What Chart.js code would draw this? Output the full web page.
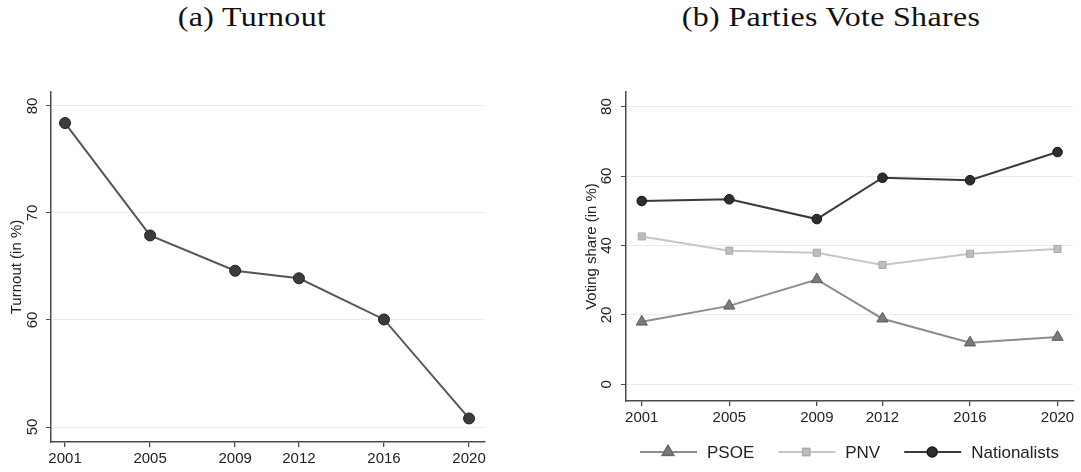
<!DOCTYPE html>
<html>
<head>
<meta charset="utf-8">
<script src="https://cdn.jsdelivr.net/npm/chart.js@4.4.1/dist/chart.umd.min.js"></script>
<style>
  html, body { margin: 0; padding: 0; background: #fff; width: 1081px; height: 472px; overflow: hidden; }
  .wrap { position: absolute; top: 0; }
  .ttl { position: absolute; top: 1px; font-family: "Liberation Serif", serif; font-size: 28px; color: #111; white-space: nowrap; transform: translateX(-50%) scaleX(1.14); letter-spacing: 0.3px; }
</style>
</head>
<body>
<div class="ttl" id="t1" style="left:252px">(a) Turnout</div>
<div class="ttl" id="t2" style="left:831px">(b) Parties Vote Shares</div>
<div class="wrap" style="left:0;width:540px;height:472px"><canvas id="c1" width="540" height="472"></canvas></div>
<div class="wrap" style="left:540px;width:541px;height:472px"><canvas id="c2" width="541" height="472"></canvas></div>
<script>
// ---- data ----
const years = [2001, 2005, 2009, 2012, 2016, 2020];
const turnout = [78.4, 67.9, 64.6, 63.9, 60.05, 50.8];
const psoe = [18.0, 22.6, 30.2, 18.9, 12.0, 13.6];
const pnv = [42.6, 38.5, 37.9, 34.4, 37.6, 39.0];
const nationalists = [52.8, 53.3, 47.6, 59.5, 58.8, 66.9];
const turnoutTicks = [50, 60, 70, 80];
const shareTicks = [0, 20, 40, 60, 80];
const seriesNames = ['PSOE', 'PNV', 'Nationalists'];

const SANS = '"Liberation Sans", Arial, sans-serif';
const AXIS = '#4a4a4a';
const GRID = '#ebebeb';
const TXT = '#222';

function pts(vals) { return years.map((y, i) => ({ x: y, y: vals[i] })); }

// plugin: rotated y tick labels + y title (Stata style)
function yDecor(title, tickOff, titleOff) {
  return {
    id: 'yDecor',
    afterDraw(chart) {
      const s = chart.scales.y, ctx = chart.ctx;
      ctx.save();
      ctx.fillStyle = TXT;
      ctx.font = '15px ' + SANS;
      ctx.textAlign = 'center';
      ctx.textBaseline = 'middle';
      s.ticks.forEach(t => {
        const y = s.getPixelForValue(t.value);
        ctx.save();
        ctx.translate(s.right - tickOff, y);
        ctx.rotate(-Math.PI / 2);
        ctx.fillText(String(t.value), 0, 0);
        ctx.restore();
      });
      const cy = (chart.chartArea.top + chart.chartArea.bottom) / 2;
      ctx.translate(s.right - titleOff, cy);
      ctx.rotate(-Math.PI / 2);
      ctx.fillText(title, 0, 0);
      ctx.restore();
    }
  };
}

function xScale(min, max) {
  return {
    type: 'linear', min: min, max: max,
    afterBuildTicks: s => { s.ticks = years.map(v => ({ value: v })); },
    afterFit: s => { s.height = 30; },
    ticks: { callback: v => String(v), font: { size: 15, family: SANS }, color: TXT, padding: 3, maxRotation: 0, autoSkip: false },
    grid: { drawOnChartArea: false, drawTicks: true, tickLength: 5, tickColor: AXIS, lineWidth: 1.3 },
    border: { display: true, color: AXIS, width: 1.5 }
  };
}
function yScale(min, max, ticks, width) {
  return {
    type: 'linear', min: min, max: max,
    afterBuildTicks: s => { s.ticks = ticks.map(v => ({ value: v })); },
    afterFit: s => { s.width = width; },
    ticks: { display: false },
    grid: { color: GRID, lineWidth: 1, drawTicks: true, tickLength: 5, tickColor: AXIS },
    border: { display: true, color: AXIS, width: 1.5 }
  };
}

// ---- chart (a) ----
new Chart(document.getElementById('c1'), {
  type: 'line',
  data: {
    datasets: [{
      label: 'Turnout', data: pts(turnout),
      borderColor: '#565656', borderWidth: 2,
      pointBackgroundColor: '#3c3c3c', pointBorderColor: '#1e1e1e', pointBorderWidth: 1,
      pointRadius: 5.5, pointStyle: 'circle', tension: 0, fill: false
    }]
  },
  options: {
    responsive: false, animation: false, events: [],
    layout: { padding: { left: 0, top: 92, right: 55, bottom: 0 } },
    plugins: { legend: { display: false }, tooltip: { enabled: false } },
    scales: { x: xScale(2000.34, 2020.75), y: yScale(48.6, 81.3, turnoutTicks, 51) }
  },
  plugins: [yDecor('Turnout (in %)', 18, 34)]
});

// ---- chart (b) ----
const styles = [
  { line: '#8c8c8c', fill: '#7a7a7a', border: '#5e5e5e', ps: 'triangle', r: 6.5 },
  { line: '#c6c6c6', fill: '#bdbdbd', border: '#a8a8a8', ps: 'rect', r: 5 },
  { line: '#3a3a3a', fill: '#2e2e2e', border: '#111', ps: 'circle', r: 4.8 }
];
const seriesVals = [psoe, pnv, nationalists];

const legendPlugin = {
  id: 'customLegend',
  afterDraw(chart) {
    const ctx = chart.ctx;
    ctx.save();
    ctx.font = '17px ' + SANS;
    ctx.textBaseline = 'middle';
    let x = 100; const y = 452;
    seriesNames.forEach((name, i) => {
      const st = styles[i];
      ctx.strokeStyle = st.line; ctx.lineWidth = 2;
      ctx.beginPath(); ctx.moveTo(x, y); ctx.lineTo(x + 57, y); ctx.stroke();
      Chart.helpers.drawPoint(ctx, { pointStyle: st.ps, radius: st.r, rotation: 0, borderWidth: 1 }, x + 28, y);
      ctx.fillStyle = st.fill; ctx.strokeStyle = st.border; ctx.lineWidth = 1;
      ctx.beginPath();
      Chart.helpers.drawPoint(ctx, { pointStyle: st.ps, radius: st.r, rotation: 0, borderWidth: 1 }, x + 28, y);
      ctx.fillStyle = TXT;
      ctx.fillText(name, x + 67, y + 1);
      x += 67 + ctx.measureText(name).width + 24;
    });
    ctx.restore();
  }
};

new Chart(document.getElementById('c2'), {
  type: 'line',
  data: {
    datasets: seriesNames.map((n, i) => ({
      label: n, data: pts(seriesVals[i]),
      borderColor: styles[i].line, borderWidth: 2,
      pointBackgroundColor: styles[i].fill, pointBorderColor: styles[i].border, pointBorderWidth: 1,
      pointRadius: styles[i].r, pointStyle: styles[i].ps, tension: 0, fill: false
    }))
  },
  options: {
    responsive: false, animation: false, events: [],
    layout: { padding: { left: 0, top: 92, right: 6, bottom: 41 } },
    plugins: { legend: { display: false }, tooltip: { enabled: false } },
    scales: { x: xScale(2000.28, 2020.73), y: yScale(-4.8, 84.2, shareTicks, 86) }
  },
  plugins: [yDecor('Voting share (in %)', 19, 34), legendPlugin]
});
</script>
</body>
</html>
